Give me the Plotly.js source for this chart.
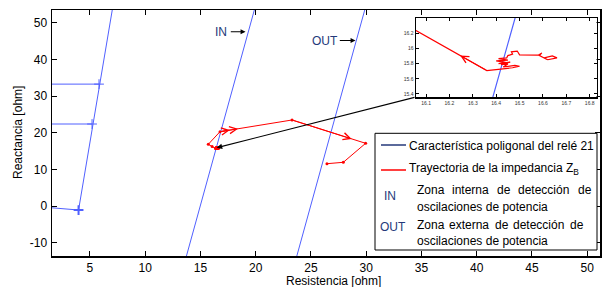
<!DOCTYPE html>
<html><head><meta charset="utf-8">
<script src="https://cdn.plot.ly/plotly-3.0.1.min.js"></script>
<style>body{margin:0;padding:0;background:#fff}#chart{width:604px;height:287px}</style>
</head><body><div id="chart"></div>
<script>
// ---- data ----
const charX = [0, 3.97, 7.1];
const charY = [-0.1, -1.1, 55];
const reach1X = [0, 5.82];
const reach1Y = [33.3, 33.3];
const reach2X = [0, 5.19];
const reach2Y = [22.4, 22.4];
const crossX = [5.82, 5.19];
const crossY = [33.3, 22.4];
const originCrossX = [3.97];
const originCrossY = [-1.1];
const inX = [13.61, 20.01];
const inY = [-15, 55];
const outX = [23.6, 30.0];
const outY = [-15, 55];
const trajX = [16.62,16.66,16.64,16.605,16.62,16.585,16.595,16.58,16.50,16.49,16.465,16.47,16.45,16.445,16.41,16.45,16.40,16.44,16.41,16.46,16.42,16.45,16.43,16.48,16.50,16.47,16.36,16.057,15.71,16.77,23.29,29.95,27.93,26.45];
const trajY = [15.85,15.875,15.90,15.875,15.85,15.905,15.94,15.91,15.915,15.965,15.955,15.925,15.905,15.875,15.865,15.845,15.835,15.815,15.80,15.82,15.785,15.795,15.755,15.775,15.765,15.745,15.708,16.234,16.86,20.3,23.5,17.13,11.94,11.56];
const xTicks = [5,10,15,20,25,30,35,40,45,50];
const yTicks = [-10,0,10,20,30,40,50];
const insetXTicks = [16.1,16.2,16.3,16.4,16.5,16.6,16.7,16.8];
const insetYTicks = [15.4,15.6,15.8,16,16.2];
const legendTexts = ['Característica poligonal del relé 21', 'Trayectoria de la impedancia Z<sub>B</sub>'];
const zoneIn = ['Zona interna de detección de', 'oscilaciones de potencia'];
const zoneOut = ['Zona externa de detección de', 'oscilaciones de potencia'];

// ---- layout helpers ----
const L = 52, R = 600, T = 10, B = 256;
const px2x = p => (p - L) / (R - L);
const py2y = p => (B - p) / (B - T);
const FONT = 'Liberation Sans, Arial, sans-serif';
const BLUE = '#5060ff';
const NAVY = '#24397a';

const traces = [
  {x: charX, y: charY, mode: 'lines', line: {color: BLUE, width: 1}, xaxis: 'x', yaxis: 'y'},
  {x: reach1X, y: reach1Y, mode: 'lines', line: {color: BLUE, width: 1}},
  {x: reach2X, y: reach2Y, mode: 'lines', line: {color: BLUE, width: 1}},
  {x: crossX, y: crossY, mode: 'markers', marker: {symbol: 'cross-thin', size: 7, line: {color: BLUE, width: 1}}},
  {x: originCrossX, y: originCrossY, mode: 'markers', marker: {symbol: 'cross-thin', size: 7, line: {color: BLUE, width: 2}}},
  {x: inX, y: inY, mode: 'lines', line: {color: BLUE, width: 1}},
  {x: outX, y: outY, mode: 'lines', line: {color: BLUE, width: 1}},
  {x: trajX, y: trajY, mode: 'lines+markers', line: {color: '#ff0000', width: 1}, marker: {color: '#ff0000', size: 3}},
  // inset
  {x: inX, y: inY, mode: 'lines', line: {color: BLUE, width: 1.2}, xaxis: 'x2', yaxis: 'y2'},
  {x: trajX, y: trajY, mode: 'lines', line: {color: '#ff0000', width: 1.2}, xaxis: 'x2', yaxis: 'y2'}
];

const anns = [];
const shapes = [];
// chevrons on trajectory
function chevron(xref, yref, tx, ty, fx, fy) {
  anns.push({xref: xref, yref: yref, axref: xref, ayref: yref, x: tx, y: ty, ax: fx, ay: fy,
    text: '', showarrow: true, arrowhead: 5, arrowsize: 1.4, arrowwidth: 1, arrowcolor: '#ff0000', standoff: 0});
}
chevron('x', 'y', 17.67, 20.74, 16.77, 20.3);
chevron('x', 'y', 18.4, 21.1, 16.77, 20.3);
chevron('x', 'y', 28.69, 18.33, 23.29, 23.5);
chevron('x2', 'y2', 16.246, 15.906, 16.36, 15.708);
// black zoom arrow
anns.push({xref: 'x', yref: 'y', axref: 'x', ayref: 'y', x: 16.47, y: 15.93, ax: 34.51, ay: 29.78,
  text: '', showarrow: true, arrowhead: 2, arrowsize: 1, arrowwidth: 1.1, arrowcolor: '#000', standoff: 0});
// IN / OUT labels in plot
function label(txt, cx, cy, size) {
  anns.push({xref: 'paper', yref: 'paper', x: px2x(cx), y: py2y(cy), text: txt, showarrow: false,
    xanchor: 'center', yanchor: 'middle', font: {family: FONT, size: size || 12, color: NAVY}});
}
label('IN', 220.5, 31.7);
label('OUT', 324.5, 40.5);
function parrow(tipX, tipY, tailX) {
  anns.push({xref: 'paper', yref: 'paper', x: px2x(tipX), y: py2y(tipY), ax: tailX - tipX, ay: 0, text: '',
    showarrow: true, arrowhead: 2, arrowsize: 0.9, arrowwidth: 1.1, arrowcolor: '#000', standoff: 0});
}
parrow(245.5, 31.7, 229.3);
parrow(355.5, 40.5, 338.3);
// axis titles
anns.push({xref: 'paper', yref: 'paper', x: px2x(333), y: py2y(281), text: 'Resistencia [ohm]', showarrow: false,
  xanchor: 'center', yanchor: 'middle', borderpad: 0, font: {family: FONT, size: 12, color: '#000'}});
anns.push({xref: 'paper', yref: 'paper', x: px2x(18), y: py2y(133), text: 'Reactancia [ohm]', showarrow: false,
  textangle: -90, xanchor: 'center', yanchor: 'middle', font: {family: FONT, size: 12, color: '#000'}});

// legend box
shapes.push({type: 'rect', xref: 'paper', yref: 'paper', x0: px2x(375), x1: px2x(597), y0: py2y(250), y1: py2y(133.3),
  line: {color: '#000', width: 1}, fillcolor: '#fff', layer: 'above'});
shapes.push({type: 'line', xref: 'paper', yref: 'paper', x0: px2x(381), x1: px2x(406), y0: py2y(145), y1: py2y(145),
  line: {color: NAVY, width: 1.5}, layer: 'above'});
shapes.push({type: 'line', xref: 'paper', yref: 'paper', x0: px2x(381), x1: px2x(406), y0: py2y(170), y1: py2y(170),
  line: {color: '#ff0000', width: 1.5}, layer: 'above'});
function ltext(txt, lx, cy) {
  anns.push({xref: 'paper', yref: 'paper', x: px2x(lx), y: py2y(cy), text: txt, showarrow: false,
    xanchor: 'left', yanchor: 'middle', borderpad: 0, font: {family: FONT, size: 12, color: '#000'}});
}
ltext(legendTexts[0], 408, 146);
ltext(legendTexts[1], 408, 169);
label('IN', 390, 196.5);
label('OUT', 393, 226.5);
const ctx = document.createElement('canvas').getContext('2d');
ctx.font = '12px "Liberation Sans"';
function justified(txt, left, right, cy) {
  const words = txt.split(' ');
  const ws = words.map(w => ctx.measureText(w).width);
  const gap = (right - left - ws.reduce((a, b) => a + b, 0)) / (words.length - 1);
  let x = left;
  words.forEach((w, i) => { ltext(w, x, cy); x += ws[i] + gap; });
}
justified(zoneIn[0], 416, 590, 190);
ltext(zoneIn[1], 416, 207.3);
justified(zoneOut[0], 416, 582, 225);
ltext(zoneOut[1], 416, 241);

const axBase = {showline: true, linecolor: '#000', mirror: 'ticks', ticks: 'inside', tickcolor: '#000',
  showgrid: false, zeroline: false, tickmode: 'array', fixedrange: true};
const layout = {
  width: 604, height: 287, margin: {l: L, r: 604 - R, t: T, b: 287 - B},
  paper_bgcolor: '#fff', plot_bgcolor: '#fff', showlegend: false,
  font: {family: FONT, size: 12, color: '#000'},
  xaxis: Object.assign({}, axBase, {range: [1.566, 51.16], tickvals: xTicks, ticktext: xTicks.map(String),
    linewidth: 1.5, ticklen: 5, tickfont: {family: FONT, size: 12}, ticklabelstandoff: 0}),
  yaxis: Object.assign({}, axBase, {range: [-13.66, 53.55], tickvals: yTicks, ticktext: yTicks.map(String),
    linewidth: 1.5, ticklen: 5, tickfont: {family: FONT, size: 12}, ticklabelstandoff: 1}),
  xaxis2: Object.assign({}, axBase, {domain: [px2x(416), px2x(596.5)], anchor: 'y2', range: [16.057, 16.829],
    tickvals: insetXTicks, ticktext: insetXTicks.map(String), linewidth: 1.5, ticklen: 3, tickfont: {family: FONT, size: 5, color: '#333'}}),
  yaxis2: Object.assign({}, axBase, {domain: [py2y(97), py2y(18)], anchor: 'x2', range: [15.36, 16.40],
    tickvals: insetYTicks, ticktext: insetYTicks.map(String), linewidth: 1.5, ticklen: 3, tickfont: {family: FONT, size: 5, color: '#333'}}),
  annotations: anns, shapes: shapes
};
Plotly.newPlot('chart', traces, layout, {displayModeBar: false, staticPlot: true});
</script></body></html>
